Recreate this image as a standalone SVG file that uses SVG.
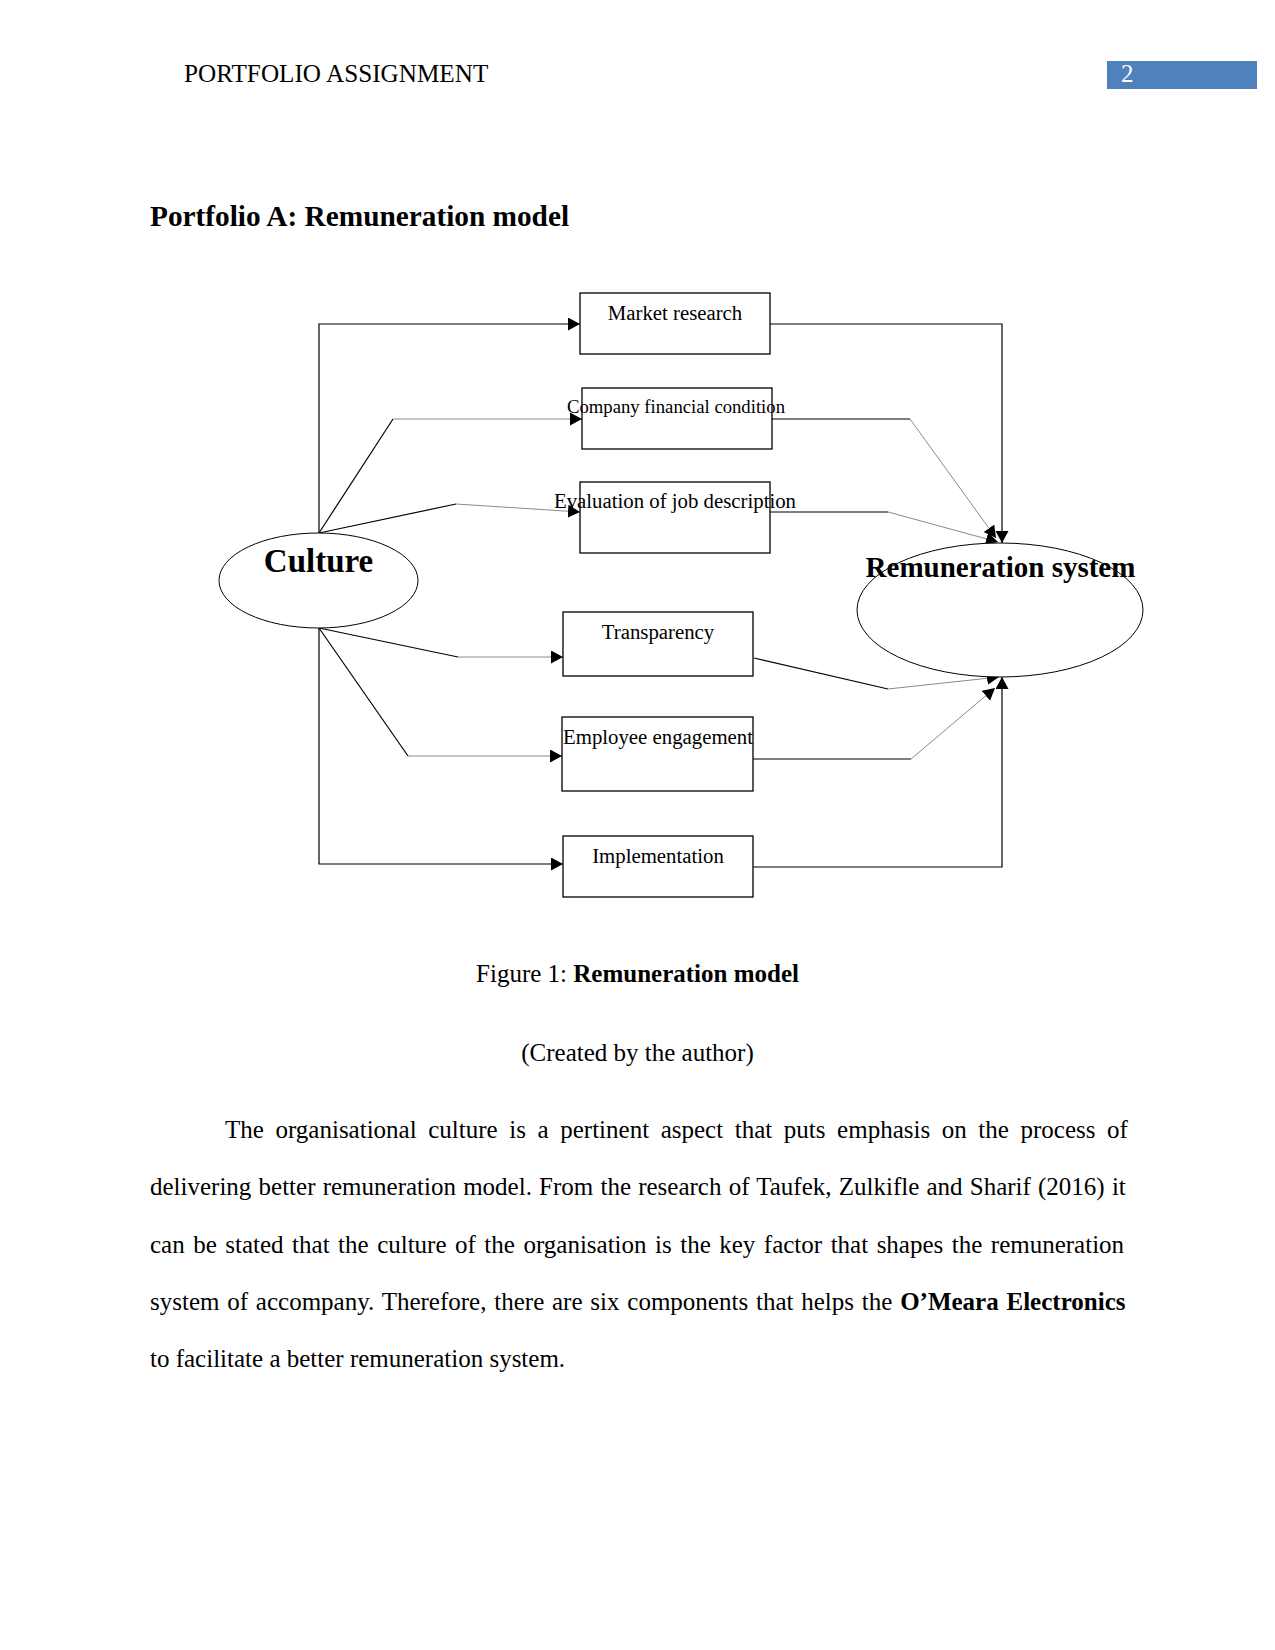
<svg xmlns="http://www.w3.org/2000/svg" width="1275" height="1650" viewBox="0 0 1275 1650">
<style>
text{font-family:"Liberation Serif","Times New Roman",serif;fill:#000}
.body{font-size:25px}
.box{fill:#fff;stroke:#000;stroke-width:1.3}
.ell{fill:#fff;stroke:#000;stroke-width:1}
.lbl{font-size:20.8px;text-anchor:middle}
.big{font-weight:bold;text-anchor:middle}
.k{fill:none;stroke:#000;stroke-width:1.2}
.g{fill:none;stroke:#8a8a8a;stroke-width:1}
</style>
<defs>
<marker id="ah" markerUnits="userSpaceOnUse" markerWidth="14" markerHeight="14" refX="12" refY="6.5" orient="auto">
<path d="M0,0 L12,6.5 L0,13 z" fill="#000"/>
</marker>
</defs>
<rect width="1275" height="1650" fill="#fff"/>
<g id="header">
<text class="body" x="184" y="82" style="font-size:25.2px">PORTFOLIO ASSIGNMENT</text>
<rect x="1107" y="61" width="150" height="28" fill="#4F81BD"/>
<text class="body" x="1121" y="82" style="fill:#fff">2</text>
</g>
<text x="150" y="226" style="font-size:29.3px;font-weight:bold">Portfolio A: Remuneration model</text>
<g id="connectors">
<path class="k" d="M319,533 V324 H580" marker-end="url(#ah)"/>
<path class="k" d="M319,533 L393,419"/>
<path class="g" d="M393,419 H582" marker-end="url(#ah)"/>
<path class="k" d="M319,533 L456,504"/>
<path class="g" d="M456,504 L580,512" marker-end="url(#ah)"/>
<path class="k" d="M319,628 L458,657"/>
<path class="g" d="M458,657 H563" marker-end="url(#ah)"/>
<path class="k" d="M319,628 L408,756"/>
<path class="g" d="M408,756 H562" marker-end="url(#ah)"/>
<path class="k" d="M319,628 V864 H563" marker-end="url(#ah)"/>
<path class="k" d="M770,324 H1002 V543" marker-end="url(#ah)"/>
<path class="k" d="M772,419 H910"/>
<path class="g" d="M910,419 L996,538" marker-end="url(#ah)"/>
<path class="k" d="M770,512 H888"/>
<path class="g" d="M888,512 L998,542" marker-end="url(#ah)"/>
<path class="k" d="M754,658 L888,689"/>
<path class="g" d="M888,689 L999,677" marker-end="url(#ah)"/>
<path class="k" d="M753,759 H911"/>
<path class="g" d="M911,759 L995,688" marker-end="url(#ah)"/>
<path class="k" d="M753,867 H1002 V677" marker-end="url(#ah)"/>
</g>
<g id="culture">
<ellipse class="ell" cx="318.5" cy="580.5" rx="99.5" ry="47.5"/>
<text class="big" x="318.5" y="572" style="font-size:33px">Culture</text>
</g>
<g id="remuneration-system">
<ellipse class="ell" cx="1000" cy="610" rx="143" ry="67"/>
<text class="big" x="1000.5" y="577" style="font-size:29px">Remuneration system</text>
</g>
<g id="market-research">
<rect class="box" x="580" y="293" width="190" height="61"/>
<text class="lbl" x="675" y="320">Market research</text>
</g>
<g id="company-financial-condition">
<rect class="box" x="582" y="388" width="190" height="61"/>
<text class="lbl" x="676" y="413" style="font-size:18.7px">Company financial condition</text>
</g>
<g id="evaluation-of-job-description">
<rect class="box" x="580" y="482" width="190" height="71"/>
<text class="lbl" x="675" y="508">Evaluation of job description</text>
</g>
<g id="transparency">
<rect class="box" x="563" y="612" width="190" height="64"/>
<text class="lbl" x="658" y="639">Transparency</text>
</g>
<g id="employee-engagement">
<rect class="box" x="562" y="717" width="191" height="74"/>
<text class="lbl" x="658" y="744">Employee engagement</text>
</g>
<g id="implementation">
<rect class="box" x="563" y="836" width="190" height="61"/>
<text class="lbl" x="658" y="863">Implementation</text>
</g>
<text class="body" x="637.5" y="982" text-anchor="middle">Figure 1: <tspan font-weight="bold">Remuneration model</tspan></text>
<text class="body" x="637.5" y="1061" text-anchor="middle">(Created by the author)</text>
<g id="paragraph">
<text class="body" x="225" y="1138" word-spacing="5.35">The organisational culture is a pertinent aspect that puts emphasis on the process of</text>
<text class="body" x="150" y="1195" word-spacing="0.95">delivering better remuneration model. From the research of Taufek, Zulkifle and Sharif (2016) it</text>
<text class="body" x="150" y="1253" word-spacing="2.25">can be stated that the culture of the organisation is the key factor that shapes the remuneration</text>
<text class="body" x="150" y="1310" word-spacing="1.55">system of accompany. Therefore, there are six components that helps the <tspan font-weight="bold">O’Meara Electronics</tspan></text>
<text class="body" x="150" y="1367">to facilitate a better remuneration system.</text>
</g>
</svg>
